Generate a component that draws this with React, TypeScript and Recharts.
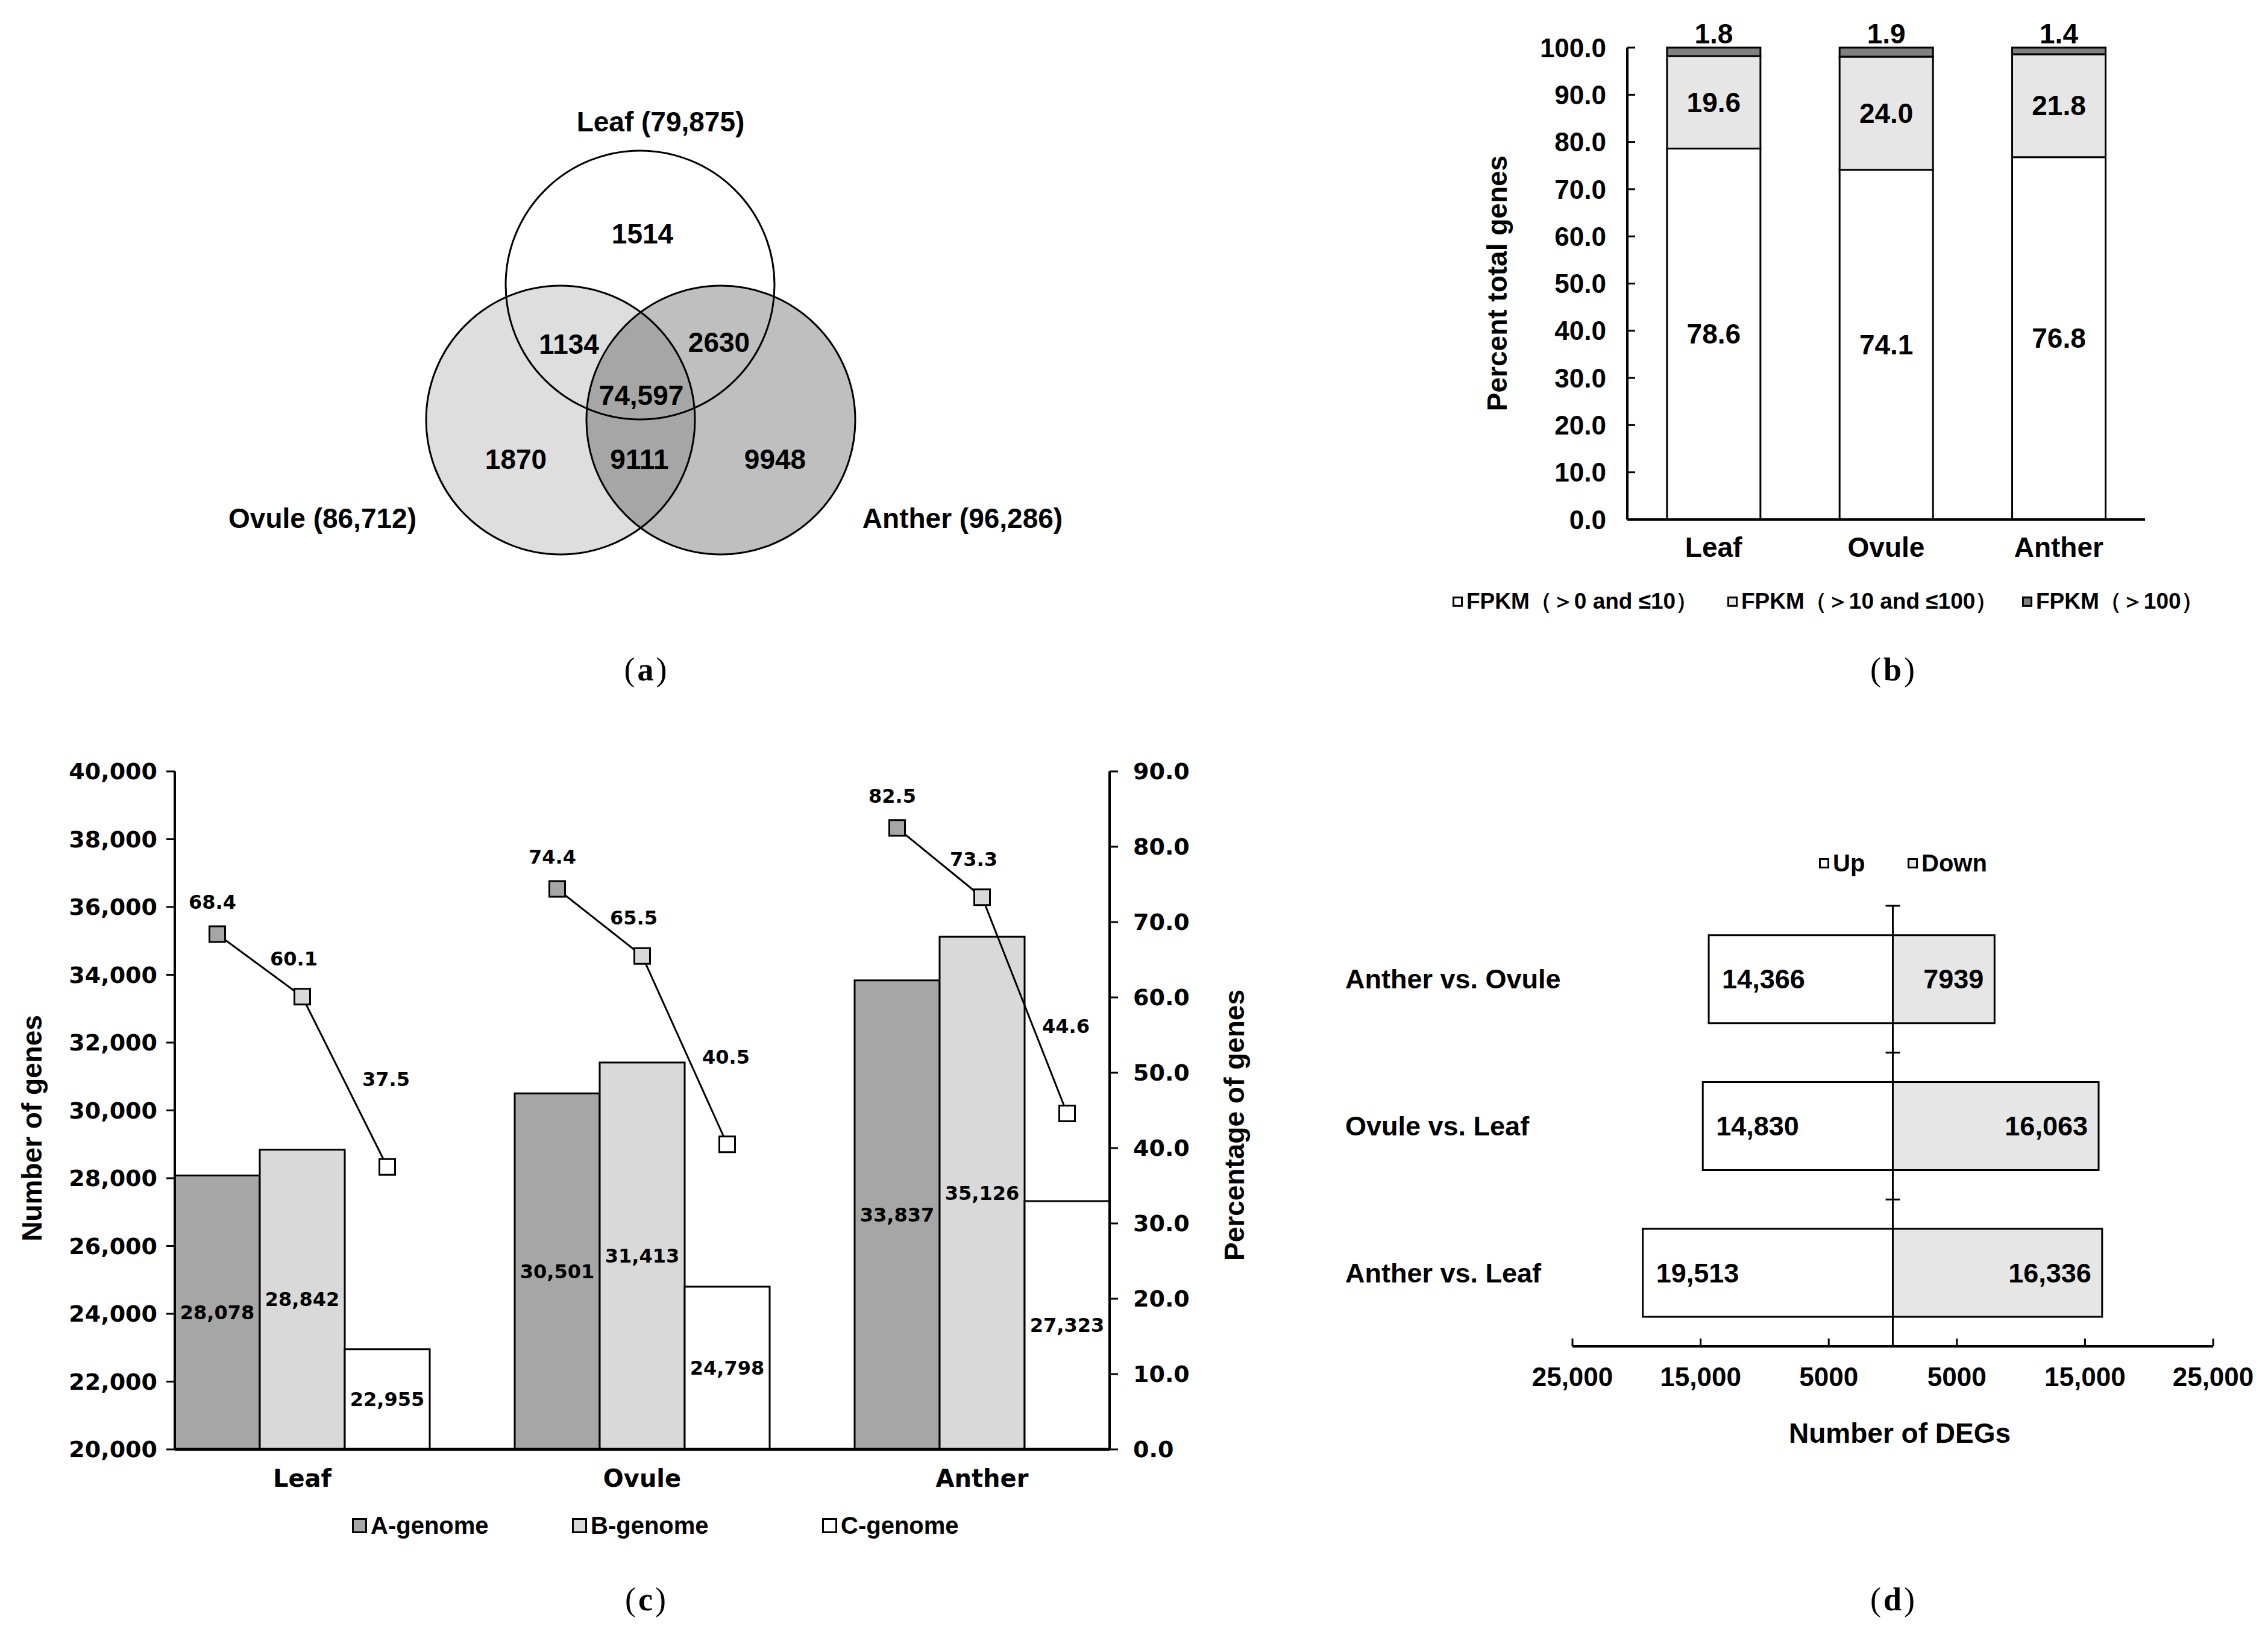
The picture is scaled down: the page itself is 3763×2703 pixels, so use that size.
import React from "react"
import {
  BarChart,
  Bar,
  ComposedChart,
  Line,
  ScatterChart,
  Scatter,
  XAxis,
  YAxis,
  Cell,
  LabelList,
  ReferenceLine,
} from "recharts"

const SANS = '"Liberation Sans", Arial, Helvetica, sans-serif'
const WIDE = '"DejaVu Sans", Verdana, sans-serif'
const SERIF = '"Liberation Serif", "Times New Roman", serif'

// ---- (a) venn data
const vennSets = ["Leaf", "Ovule", "Anther"]
const vennTotals = [79875, 86712, 96286]
const vennRegionCounts = [1514, 1134, 2630, 74597, 1870, 9111, 9948]

// ---- (b) FPKM distribution
const tissues = ["Leaf", "Ovule", "Anther"]
const fpkmLow = [78.6, 74.1, 76.8]
const fpkmMid = [19.6, 24.0, 21.8]
const fpkmHigh = [1.8, 1.9, 1.4]
const fpkmTicks = [0, 10, 20, 30, 40, 50, 60, 70, 80, 90, 100]
const fpkmLegend = ["FPKM（＞0 and ≤10）", "FPKM（＞10 and ≤100）", "FPKM（＞100）"]

// ---- (c) sub-genome genes
const genomes = ["A-genome", "B-genome", "C-genome"]
const aGenomeGenes = [28078, 30501, 33837]
const bGenomeGenes = [28842, 31413, 35126]
const cGenomeGenes = [22955, 24798, 27323]
const aGenomePct = [68.4, 74.4, 82.5]
const bGenomePct = [60.1, 65.5, 73.3]
const cGenomePct = [37.5, 40.5, 44.6]
const geneTicks = [20000, 22000, 24000, 26000, 28000, 30000, 32000, 34000, 36000, 38000, 40000]
const pctTicks = [0, 10, 20, 30, 40, 50, 60, 70, 80, 90]

// ---- (d) DEGs
const comparisons = ["Anther vs. Ovule", "Ovule vs. Leaf", "Anther vs. Leaf"]
const upDegs = [14366, 14830, 19513]
const downDegs = [7939, 16063, 16336]
const degTicks = [-25000, -15000, -5000, 5000, 15000, 25000]

// ---- layout / styling (not data)
const VENN_W = 1600
const VENN_H = 820
const VENN_R = 223
const vennCirclePos = [[862, 323], [730, 547], [996, 547]]
const vennRegionPos = [[866, 238], [744, 421], [993, 418], [864, 506], [656, 612], [861, 612], [1086, 612]]
const vennTitlePos = [[896, 52], [335, 710], [1397, 710]]
const vennFill = [
  { fill: "#ffffff", opacity: 1 },
  { fill: "#000000", opacity: 0.13 },
  { fill: "#000000", opacity: 0.25 },
]
const genomeFill = ["#a6a6a6", "#d9d9d9", "#ffffff"]
const fpkmFill = ["#ffffff", "#e6e6e6", "#808080"]

const fmtNum = (v: number) => (Math.abs(v) >= 10000 ? Math.abs(v).toLocaleString("en-US") : String(Math.abs(v)))

const vennCircleData = vennSets.map((name, i) => ({ name, idx: i, x: vennCirclePos[i][0], y: vennCirclePos[i][1] }))
const vennTextData = [
  ...vennRegionCounts.map((n, i) => ({ text: fmtNum(n), x: vennRegionPos[i][0], y: vennRegionPos[i][1] })),
  ...vennSets.map((s, i) => ({
    text: `${s} (${vennTotals[i].toLocaleString("en-US")})`,
    x: vennTitlePos[i][0],
    y: vennTitlePos[i][1],
  })),
]

const fpkmRows = tissues.map((t, i) => ({ tissue: t, low: fpkmLow[i], mid: fpkmMid[i], high: fpkmHigh[i] }))

type GenomeRow = { slot: string; tickLabel: string; genome: number; count?: number; pct?: number }
const genomeRows: GenomeRow[] = []
tissues.forEach((t, ti) => {
  const counts = [aGenomeGenes[ti], bGenomeGenes[ti], cGenomeGenes[ti]]
  const pcts = [aGenomePct[ti], bGenomePct[ti], cGenomePct[ti]]
  genomes.forEach((g, gi) =>
    genomeRows.push({ slot: `${t} ${g}`, tickLabel: gi === 1 ? t : "", genome: gi, count: counts[gi], pct: pcts[gi] })
  )
  if (ti < tissues.length - 1) genomeRows.push({ slot: `${t} gap`, tickLabel: "", genome: -1 })
})
const slotLabel = new Map(genomeRows.map((r) => [r.slot, r.tickLabel]))

const degRows = comparisons.map((c, i) => ({ comparison: c, up: -upDegs[i], down: downDegs[i] }))

// ---------- renderers
const VennCircle = (props: any) => {
  const st = vennFill[props.payload.idx]
  return (
    <circle cx={props.cx} cy={props.cy} r={VENN_R} fill={st.fill} fillOpacity={st.opacity} stroke="#000" strokeWidth={3} />
  )
}

const VennText = (props: any) => (
  <text x={props.cx} y={props.cy} textAnchor="middle" dominantBaseline="central" fontFamily={SANS} fontWeight={700} fontSize={46} fill="#000">
    {props.payload.text}
  </text>
)

const fpkmCenterLabel = (props: any) => {
  const { x, y, width, height, value } = props
  if (value == null) return null
  return (
    <text x={x + width / 2} y={y + height / 2} textAnchor="middle" dominantBaseline="central" fontFamily={SANS} fontWeight={700} fontSize={46} fill="#000">
      {Number(value).toFixed(1)}
    </text>
  )
}

const fpkmTopLabel = (props: any) => {
  const { x, y, width, value } = props
  if (value == null) return null
  return (
    <text x={x + width / 2} y={y - 23} textAnchor="middle" dominantBaseline="central" fontFamily={SANS} fontWeight={700} fontSize={46} fill="#000">
      {Number(value).toFixed(1)}
    </text>
  )
}

const geneCountLabel = (props: any) => {
  const { x, y, width, height, value } = props
  if (value == null) return null
  return (
    <text x={x + width / 2} y={y + height / 2} textAnchor="middle" dominantBaseline="central" fontFamily={WIDE} fontWeight={700} fontSize={32} fill="#000">
      {Number(value).toLocaleString("en-US")}
    </text>
  )
}

// label lift above each square, per genome
const pctLift = [53, 63, 145]
const pctShift = [-8, -14, -2]

const pctLabel = (props: any) => {
  const { x, y, value } = props
  if (value == null || x == null || y == null) return null
  const [g, v] = String(value).split("|")
  const gi = Number(g)
  return (
    <text x={x + pctShift[gi]} y={y - pctLift[gi]} textAnchor="middle" dominantBaseline="central" fontFamily={WIDE} fontWeight={700} fontSize={32} fill="#000">
      {v}
    </text>
  )
}

const SquareDot = (props: any) => {
  const { cx, cy, payload, index } = props
  if (cx == null || cy == null || payload?.pct == null) return <g key={`d${index}`} />
  return (
    <rect key={`d${index}`} x={cx - 13} y={cy - 13} width={26} height={26} fill={genomeFill[payload.genome]} stroke="#000" strokeWidth={3} />
  )
}

const upLabel = (props: any) => {
  const { x, width, y, height, value } = props
  if (value == null) return null
  const left = Math.min(x, x + width)
  return (
    <text x={left + 22} y={y + height / 2} textAnchor="start" dominantBaseline="central" fontFamily={SANS} fontWeight={700} fontSize={45} fill="#000">
      {fmtNum(value)}
    </text>
  )
}

const downLabel = (props: any) => {
  const { x, width, y, height, value } = props
  if (value == null) return null
  const right = Math.max(x, x + width)
  return (
    <text x={right - 18} y={y + height / 2} textAnchor="end" dominantBaseline="central" fontFamily={SANS} fontWeight={700} fontSize={45} fill="#000">
      {fmtNum(value)}
    </text>
  )
}

const DEG_AXIS_W = 409
const degCategoryTick = (props: any) => (
  <text x={props.x - DEG_AXIS_W + 32} y={props.y} textAnchor="start" dominantBaseline="central" fontFamily={SANS} fontWeight={700} fontSize={45} fill="#000">
    {props.payload.value}
  </text>
)

// ---------- html helpers
function AxisTitle({ x, y, text, rotate, size = 46 }: { x: number; y: number; text: string; rotate?: boolean; size?: number }) {
  return (
    <div
      style={{
        position: "absolute",
        left: x,
        top: y,
        transform: `translate(-50%, -50%)${rotate ? " rotate(-90deg)" : ""}`,
        whiteSpace: "nowrap",
        fontFamily: SANS,
        fontWeight: 700,
        fontSize: size,
        lineHeight: 1,
        color: "#000",
      }}
    >
      {text}
    </div>
  )
}

function LegendItem({ x, y, box, fill, text, size }: { x: number; y: number; box: number; fill: string; text: string; size: number }) {
  return (
    <div style={{ position: "absolute", left: x, top: y, transform: "translateY(-50%)", display: "flex", alignItems: "center", whiteSpace: "nowrap" }}>
      <div style={{ width: box, height: box, background: fill, border: "3px solid #000", boxSizing: "border-box", marginRight: 6 }} />
      <span style={{ fontFamily: SANS, fontWeight: 700, fontSize: size, lineHeight: 1.2, color: "#000" }}>{text}</span>
    </div>
  )
}

function PanelTag({ x, y, letter }: { x: number; y: number; letter: string }) {
  return (
    <div
      style={{
        position: "absolute",
        left: x,
        top: y,
        transform: "translate(-50%, -50%)",
        fontFamily: SERIF,
        fontSize: 54,
        lineHeight: 1.2,
        color: "#000",
        whiteSpace: "nowrap",
        letterSpacing: 4,
      }}
    >
      (<b>{letter}</b>)
    </div>
  )
}

const axisStroke = { stroke: "#000", strokeWidth: 4 }
const tickStroke = { stroke: "#000", strokeWidth: 3 }

export default function App() {
  return (
    <div style={{ position: "absolute", left: 0, top: 0, width: 3763, height: 2703, background: "#fff", overflow: "hidden" }}>
      {/* (a) Venn */}
      <div style={{ position: "absolute", left: 200, top: 150 }}>
        <ScatterChart width={VENN_W} height={VENN_H} margin={{ top: 0, right: 0, bottom: 0, left: 0 }}>
          <XAxis type="number" dataKey="x" domain={[0, VENN_W]} hide />
          <YAxis type="number" dataKey="y" domain={[0, VENN_H]} reversed hide />
          <Scatter data={vennCircleData} shape={VennCircle} isAnimationActive={false} />
          <Scatter data={vennTextData} shape={VennText} isAnimationActive={false} />
        </ScatterChart>
      </div>
      <PanelTag x={1073} y={1111} letter="a" />

      {/* (b) FPKM stacked bars */}
      <div style={{ position: "absolute", left: 2400, top: 0 }}>
        <BarChart width={1200} height={960} data={fpkmRows} margin={{ top: 79, right: 41, bottom: 0, left: 0 }} barCategoryGap="23%">
          <XAxis
            dataKey="tissue"
            height={98}
            tickLine={false}
            tickSize={0}
            tickMargin={29}
            axisLine={axisStroke}
            tick={{ fill: "#000", fontSize: 46, fontWeight: 700, fontFamily: SANS }}
          />
          <YAxis
            domain={[0, 100]}
            ticks={fpkmTicks}
            width={300}
            tickFormatter={(v: number) => v.toFixed(1)}
            tickSize={-13}
            tickMargin={48}
            axisLine={axisStroke}
            tickLine={tickStroke}
            tick={{ fill: "#000", fontSize: 44, fontWeight: 700, fontFamily: SANS }}
          />
          <Bar dataKey="low" stackId="f" fill={fpkmFill[0]} stroke="#000" strokeWidth={3} isAnimationActive={false}>
            <LabelList dataKey="low" content={fpkmCenterLabel} />
          </Bar>
          <Bar dataKey="mid" stackId="f" fill={fpkmFill[1]} stroke="#000" strokeWidth={3} isAnimationActive={false}>
            <LabelList dataKey="mid" content={fpkmCenterLabel} />
          </Bar>
          <Bar dataKey="high" stackId="f" fill={fpkmFill[2]} stroke="#000" strokeWidth={3} isAnimationActive={false}>
            <LabelList dataKey="high" content={fpkmTopLabel} />
          </Bar>
        </BarChart>
      </div>
      <AxisTitle x={2484} y={470} text="Percent total genes" rotate />
      <LegendItem x={2410} y={998} box={17} fill={fpkmFill[0]} text={fpkmLegend[0]} size={37} />
      <LegendItem x={2866} y={998} box={17} fill={fpkmFill[1]} text={fpkmLegend[1]} size={37} />
      <LegendItem x={3355} y={998} box={17} fill={fpkmFill[2]} text={fpkmLegend[2]} size={37} />
      <PanelTag x={3142} y={1111} letter="b" />

      {/* (c) genes per sub-genome */}
      <div style={{ position: "absolute", left: 0, top: 1240 }}>
        <ComposedChart width={2160} height={1270} data={genomeRows} margin={{ top: 40, right: 0, bottom: 0, left: 0 }} barCategoryGap={0} barGap={0}>
          <XAxis
            dataKey="slot"
            interval={0}
            tickFormatter={(v: string) => slotLabel.get(v) ?? ""}
            height={105}
            tickLine={false}
            tickSize={0}
            tickMargin={34}
            axisLine={{ stroke: "#000", strokeWidth: 5 }}
            tick={{ fill: "#000", fontSize: 40, fontWeight: 700, fontFamily: WIDE }}
          />
          <YAxis
            yAxisId="genes"
            domain={[20000, 40000]}
            ticks={geneTicks}
            allowDataOverflow
            width={290}
            tickFormatter={(v: number) => v.toLocaleString("en-US")}
            tickSize={14}
            tickMargin={15}
            axisLine={axisStroke}
            tickLine={tickStroke}
            tick={{ fill: "#000", fontSize: 38, fontWeight: 700, fontFamily: WIDE }}
          />
          <YAxis
            yAxisId="pct"
            orientation="right"
            domain={[0, 90]}
            ticks={pctTicks}
            allowDataOverflow
            width={319}
            tickFormatter={(v: number) => v.toFixed(1)}
            tickSize={14}
            tickMargin={25}
            axisLine={axisStroke}
            tickLine={tickStroke}
            tick={{ fill: "#000", fontSize: 38, fontWeight: 700, fontFamily: WIDE }}
          />
          <Bar yAxisId="genes" dataKey="count" stroke="#000" strokeWidth={3} isAnimationActive={false}>
            {genomeRows.map((r, i) => (
              <Cell key={i} fill={genomeFill[r.genome] ?? "#fff"} />
            ))}
            <LabelList dataKey="count" content={geneCountLabel} />
          </Bar>
          <Line
            yAxisId="pct"
            dataKey="pct"
            stroke="#000"
            strokeWidth={3}
            dot={SquareDot}
            activeDot={false}
            connectNulls={false}
            isAnimationActive={false}
          >
            <LabelList dataKey={(r: GenomeRow) => (r.pct == null ? null : `${r.genome}|${r.pct.toFixed(1)}`)} content={pctLabel} />
          </Line>
        </ComposedChart>
      </div>
      <AxisTitle x={53} y={1872} text="Number of genes" rotate />
      <AxisTitle x={2048} y={1867} text="Percentage of genes" rotate />
      <LegendItem x={584} y={2531} box={25} fill={genomeFill[0]} text={genomes[0]} size={40} />
      <LegendItem x={949} y={2531} box={25} fill={genomeFill[1]} text={genomes[1]} size={40} />
      <LegendItem x={1364} y={2531} box={25} fill={genomeFill[2]} text={genomes[2]} size={40} />
      <PanelTag x={1073} y={2654} letter="c" />

      {/* (d) DEGs */}
      <div style={{ position: "absolute", left: 2200, top: 1380 }}>
        <BarChart
          layout="vertical"
          width={1563}
          height={950}
          data={degRows}
          margin={{ top: 123, right: 91, bottom: 0, left: 0 }}
          stackOffset="sign"
          barCategoryGap="20%"
        >
          <XAxis
            type="number"
            domain={[-25000, 25000]}
            ticks={degTicks}
            tickFormatter={fmtNum}
            height={96}
            tickSize={-13}
            tickMargin={48}
            axisLine={axisStroke}
            tickLine={tickStroke}
            tick={{ fill: "#000", fontSize: 44, fontWeight: 700, fontFamily: SANS }}
          />
          <YAxis
            type="category"
            dataKey="comparison"
            width={DEG_AXIS_W}
            axisLine={false}
            tickLine={false}
            tickSize={0}
            tickMargin={0}
            tick={degCategoryTick}
          />
          <Bar dataKey="up" stackId="d" fill="#ffffff" stroke="#000" strokeWidth={3} isAnimationActive={false}>
            <LabelList dataKey="up" content={upLabel} />
          </Bar>
          <Bar dataKey="down" stackId="d" fill="#e6e6e6" stroke="#000" strokeWidth={3} isAnimationActive={false}>
            <LabelList dataKey="down" content={downLabel} />
          </Bar>
          <ReferenceLine x={0} stroke="#000" strokeWidth={3} />
          {comparisons.map((c) => (
            <ReferenceLine
              key={c}
              segment={[
                { x: -560, y: c },
                { x: 560, y: c },
              ]}
              position="start"
              stroke="#000"
              strokeWidth={3}
            />
          ))}
        </BarChart>
      </div>
      <LegendItem x={3018} y={1432} box={17} fill="#ffffff" text="Up" size={40} />
      <LegendItem x={3165} y={1432} box={17} fill="#e6e6e6" text="Down" size={40} />
      <AxisTitle x={3152} y={2378} text="Number of DEGs" size={46} />
      <PanelTag x={3142} y={2654} letter="d" />
    </div>
  )
}
